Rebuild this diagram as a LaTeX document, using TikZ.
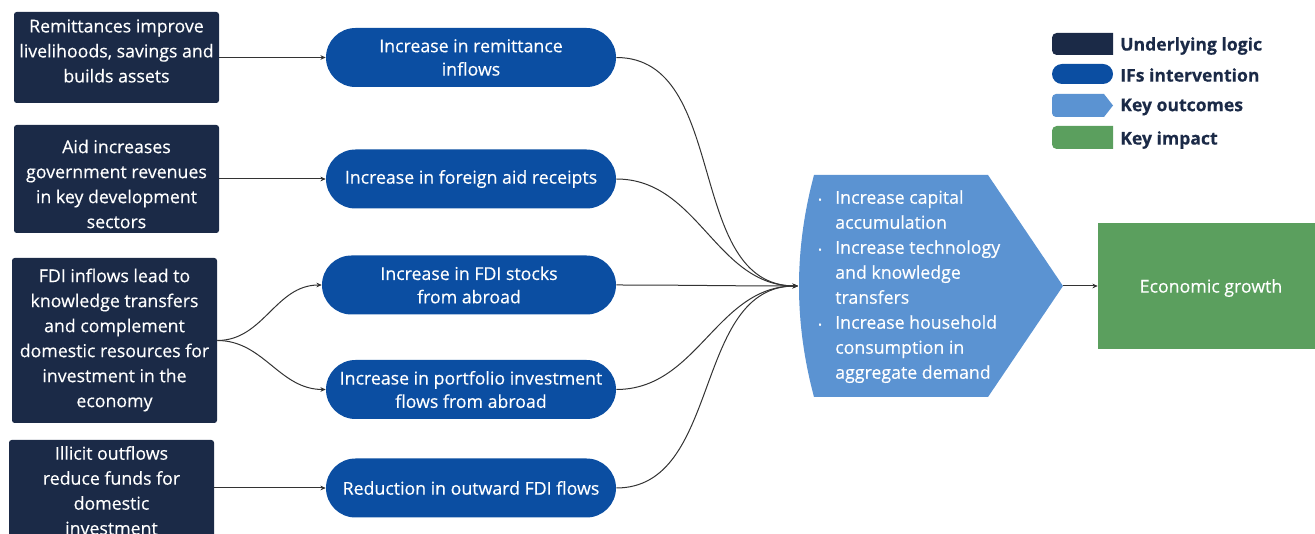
\documentclass[tikz,border=0pt]{standalone}
\usepackage{fontspec}
\setmainfont{Open Sans}[FakeBold=0.35]
\usetikzlibrary{arrows.meta,shapes.misc}
\definecolor{navy}{HTML}{1B2A47}
\definecolor{ifblue}{HTML}{0B4EA2}
\definecolor{lblue}{HTML}{5B93D2}
\definecolor{kgreen}{HTML}{5B9F5E}
\definecolor{conn}{HTML}{333333}
\newcommand\bul{\makebox[12.75pt][l]{\raisebox{0.5pt}{\scriptsize\textbullet}}}
\newcommand\ind{\makebox[12.75pt]{}}
\begin{document}
\begin{tikzpicture}[x=0.75pt,y=-0.75pt,
  every node/.style={inner sep=0pt},
  logic/.style={rectangle, rounded corners=2pt, fill=navy, minimum width=153.75pt},
  logictxt/.style={text=white, align=center, font=\fontsize{13.3pt}{18.75pt}\selectfont},
  ifs/.style={rounded rectangle, fill=ifblue, text=white, align=center,
    minimum width=217.5pt, minimum height=44.25pt, font=\fontsize{13.3pt}{17.5pt}\selectfont},
  impact/.style={rectangle, fill=kgreen, minimum width=162.75pt, minimum height=94.5pt},
  impacttxt/.style={text=white, font=\fontsize{13.3pt}{18.75pt}\selectfont},
  outtxt/.style={text=white, align=left, font=\fontsize{13.3pt}{18.75pt}\selectfont},
  legtxt/.style={text=navy, anchor=west, font=\bfseries\fontsize{13.2pt}{15pt}\selectfont},
  conn/.style={draw=conn, line width=0.75pt},
  arr/.style={conn, -{Stealth[length=4pt,width=3.5pt]}}
]
\useasboundingbox (0,0) rectangle (1315,534);
\clip (0,0) rectangle (1315,534);

% underlying logic boxes
\node[logic, minimum height=68.25pt] (b1) at (116.5,57.5) {};
\node[logictxt] (t1) at (116.5,51) {Remittances improve\\livelihoods, savings and\\builds assets};
\node[logic, minimum height=81pt] (b2) at (116.5,179) {};
\node[logictxt] (t2) at (116.5,184) {Aid increases\\government revenues\\in key development\\sectors};
\node[logic, minimum height=123.75pt] (b3) at (114.5,340.5) {};
\node[logictxt] (t3) at (114.5,340) {FDI inflows lead to\\knowledge transfers\\and complement\\domestic resources for\\investment in the\\economy};
\node[logic, minimum height=78pt] (b4) at (111.5,492) {};
\node[logictxt] (t4) at (111.5,490.5) {Illicit outflows\\reduce funds for\\domestic\\investment};

% interventions
\node[ifs] (p1) at (471,57.5) {Increase in remittance\\inflows};
\node[ifs] (p2) at (471,179) {Increase in foreign aid receipts};
\node[ifs, minimum width=220.5pt] (p3) at (469,285) {Increase in FDI stocks\\from abroad};
\node[ifs] (p4) at (471,389.5) {Increase in portfolio investment\\flows from abroad};
\node[ifs] (p5) at (471,488) {Reduction in outward FDI flows};

% key outcomes shape
\fill[lblue] (988,175) -- (1063,286) -- (988,397) -- (814,397)
  .. controls (794,322) and (794,250) .. (814,175) -- cycle;
\coordinate (outin) at (798,286);
\coordinate (outtip) at (1063,286);
\node[outtxt, anchor=north west] (outc) at (818,190) {\bul Increase capital\\\ind accumulation\\\bul Increase technology\\\ind and knowledge\\\ind transfers\\\bul Increase household\\\ind consumption in\\\ind aggregate demand};

% key impact
\node[impact] (gr) at (1206.5,286) {};
\node[impacttxt] (grt) at (1211,288) {Economic growth};

% connectors
\draw[arr] (b1.east) -- (p1.west);
\draw[arr] (b2.east) -- (p2.west);
\draw[arr] (b3.east) to[out=0,in=180] (p3.west);
\draw[arr] (b3.east) to[out=0,in=180] (p4.west);
\draw[arr] (b4.east |- p5.west) -- (p5.west);

\draw[arr] (p1.east) to[out=0,in=180] (outin);
\draw[arr] (p2.east) to[out=0,in=180] (outin);
\draw[arr] (p3.east) to[out=0,in=180] (outin);
\draw[arr] (p4.east) to[out=0,in=180] (outin);
\draw[arr] (p5.east) to[out=0,in=180] (outin);
\draw[arr] (outtip) -- (gr.west);

% legend
\fill[navy] (1113,33) [rounded corners=3.5pt] -- (1052,33) -- (1052,55) [sharp corners] -- (1113,55) -- cycle;
\fill[ifblue, rounded corners=7.5pt] (1052,64) rectangle (1113,84);
\fill[lblue] (1104,94) [rounded corners=3pt] -- (1052,94) -- (1052,117) [sharp corners] -- (1104,117) -- (1113,105.5) -- cycle;
\fill[kgreen] (1113,126) [rounded corners=3.5pt] -- (1052,126) -- (1052,149) [sharp corners] -- (1113,149) -- cycle;
\node[legtxt] (l1) at (1120,46) {Underlying logic};
\node[legtxt] (l2) at (1120,75) {IFs intervention};
\node[legtxt] (l3) at (1120,107) {Key outcomes};
\node[legtxt] (l4) at (1120,140) {Key impact};
\end{tikzpicture}
\end{document}
